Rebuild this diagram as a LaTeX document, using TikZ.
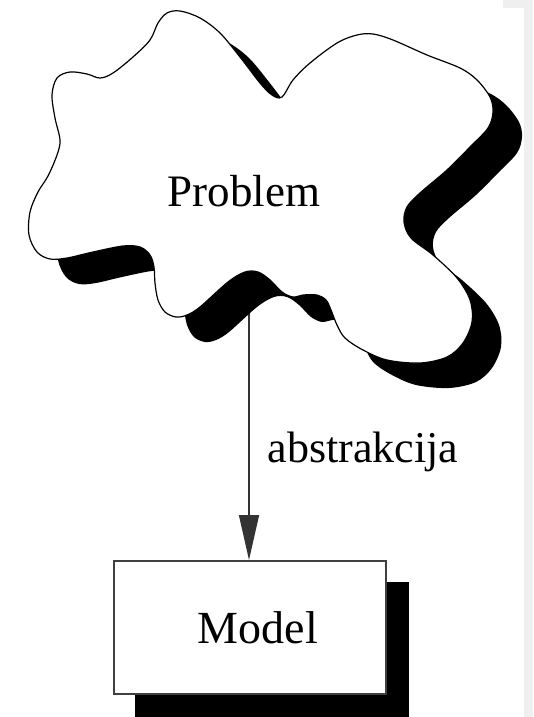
\documentclass[tikz,border=0pt]{standalone}
\usepackage{fontspec}
\setmainfont{Liberation Serif}
\usetikzlibrary{arrows.meta,backgrounds}
\definecolor{stripgray}{HTML}{EFEFEF}
\tikzset{
  cloudshape/.pic={\path[pic actions] plot[smooth cycle, tension=0.55] coordinates {
    (158,23) (167,13) (180,11) (200,18) (220,33) (240,57) (260,83) (272,95) (282,97)
    (293,80) (310,63) (337,43) (357,35) (373,34) (393,40) (427,55) (460,68) (477,80)
    (490,97) (493,112) (488,128) (470,147) (447,170) (420,193) (407,207) (404,222)
    (411,238) (433,255) (457,278) (470,300) (472,322) (463,343) (447,357) (420,363)
    (387,360) (363,350) (345,338) (337,325) (331,310) (326,300) (317,295) (303,295)
    (293,297) (282,292) (270,280) (258,272) (245,272) (228,282) (200,307) (187,315)
    (176,317) (165,312) (158,300) (155,283) (154,267) (150,255) (140,247) (123,246)
    (93,252) (67,258) (50,259) (37,252) (29,235) (30,212) (38,192) (48,176) (57,155)
    (60,140) (55,118) (52,95) (57,78) (70,72) (87,74) (100,78) (113,73) (133,57) (150,40)};},
  lbl/.style={font=\fontsize{45}{50}\selectfont, inner sep=0pt, anchor=base},
  modelbox/.style={draw=black!75, line width=2pt, fill=white, minimum width=272pt,
    minimum height=133pt, inner sep=0pt, font=\fontsize{46}{50}\selectfont},
  arrowline/.style={draw=black!80, line width=1.5pt, -{Triangle[length=45pt,width=20pt]}},
  cloudline/.style={fill=white, draw=black, line width=1.2pt},
  shadowfill/.style={fill=black}
}
\begin{document}
\begin{tikzpicture}[x=1pt,y=-1pt]
\useasboundingbox (0,0) rectangle (533,717);
\begin{scope}[on background layer]
  \fill[white] (0,0) rectangle (533,717);
  \fill[stripgray] (503,0) rectangle (533,8);
  \fill[stripgray] (524,0) rectangle (533,717);
\end{scope}
\node[modelbox] (model) at (250,627.5) {\hspace*{16pt}Model};
\begin{scope}[on background layer]
  \fill[shadowfill] ([shift={(22,22)}]model.north west) rectangle ([shift={(22,22)}]model.south east);
\end{scope}
\coordinate (cloudbot) at (249,290);
\draw[arrowline] (cloudbot) -- (cloudbot |- model.north);
\pic[shadowfill] at (29,25) {cloudshape};
\pic[cloudline] {cloudshape};
\node[lbl] (problem) at (244,206) {Problem};
\node[lbl, font=\fontsize{44}{48}\selectfont] (abs) at (363,462) {abstrakcija};
\end{tikzpicture}
\end{document}
